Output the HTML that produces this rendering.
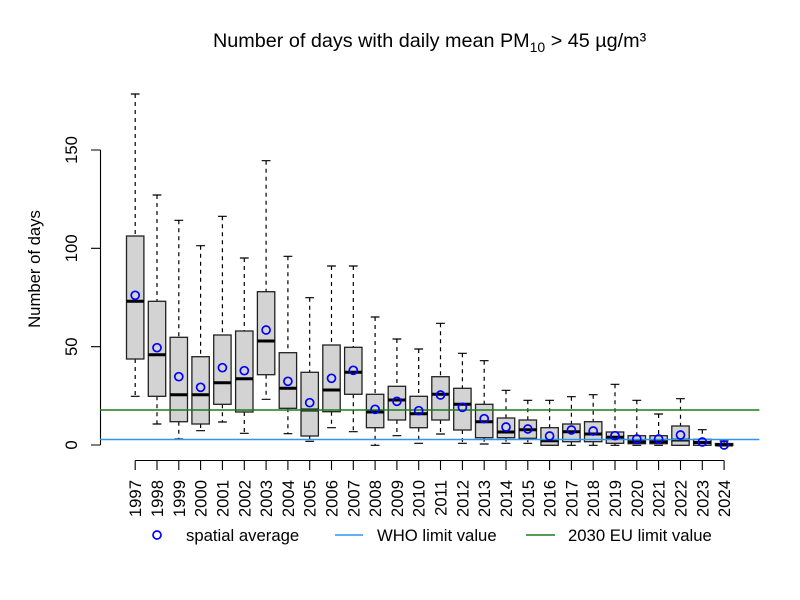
<!DOCTYPE html>
<html>
<head>
<meta charset="utf-8">
<style>
html,body{margin:0;padding:0;background:#fff;}
svg{display:block;}
text{font-family:"Liberation Sans",Arial,sans-serif;fill:#000;}
.w{stroke:#000;stroke-width:1.2;stroke-dasharray:4 4;fill:none;}
.s{stroke:#000;stroke-width:1.2;fill:none;}
rect{fill:#d3d3d3;stroke:#222;stroke-width:1.3;}
.m{stroke:#000;stroke-width:3;fill:none;}
.mean{fill:none;stroke:#0000ff;stroke-width:1.7;}
.ax{stroke:#000;stroke-width:1.1;fill:none;}
</style>
</head>
<body>
<svg width="800" height="600" viewBox="0 0 800 600" xmlns="http://www.w3.org/2000/svg">
<rect x="0" y="0" width="800" height="600" style="fill:#fff;stroke:none"/>

<!-- Title -->
<text x="213" y="47" font-size="19.8">Number of days with daily mean PM<tspan font-size="14" dy="5">10</tspan><tspan dy="-5"> &gt; 45 µg/m³</tspan></text>

<!-- Y axis -->
<path class="ax" d="M100.5 150V445M91 150H100.5M91 248.3H100.5M91 346.7H100.5M91 445H100.5"/>
<text font-size="16.7" text-anchor="middle" transform="translate(77 445) rotate(-90)">0</text>
<text font-size="16.7" text-anchor="middle" transform="translate(77 346.7) rotate(-90)">50</text>
<text font-size="16.7" text-anchor="middle" transform="translate(77 248.3) rotate(-90)">100</text>
<text font-size="16.7" text-anchor="middle" transform="translate(77 150) rotate(-90)">150</text>
<text font-size="16.7" text-anchor="middle" transform="translate(40 269) rotate(-90)">Number of days</text>

<!-- Boxes -->
<g transform="translate(135.2 0)"><path class="w" d="M0 94V236M0 359V396.3"/><path class="s" d="M-4.4 94H4.4M-4.4 396.3H4.4"/><rect x="-8.7" y="236" width="17.4" height="123"/><path class="m" d="M-8.7 301.3H8.7"/></g>
<g transform="translate(157.0 0)"><path class="w" d="M0 195V301.3M0 396.3V424"/><path class="s" d="M-4.4 195H4.4M-4.4 424H4.4"/><rect x="-8.7" y="301.3" width="17.4" height="95"/><path class="m" d="M-8.7 354.7H8.7"/></g>
<g transform="translate(178.8 0)"><path class="w" d="M0 220.3V337.3M0 421.7V439"/><path class="s" d="M-4.4 220.3H4.4M-4.4 439H4.4"/><rect x="-8.7" y="337.3" width="17.4" height="84.4"/><path class="m" d="M-8.7 394.7H8.7"/></g>
<g transform="translate(200.6 0)"><path class="w" d="M0 245.7V356.7M0 424V430.7"/><path class="s" d="M-4.4 245.7H4.4M-4.4 430.7H4.4"/><rect x="-8.7" y="356.7" width="17.4" height="67.3"/><path class="m" d="M-8.7 394.7H8.7"/></g>
<g transform="translate(222.4 0)"><path class="w" d="M0 216.3V335M0 404.3V422"/><path class="s" d="M-4.4 216.3H4.4M-4.4 422H4.4"/><rect x="-8.7" y="335" width="17.4" height="69.3"/><path class="m" d="M-8.7 382.7H8.7"/></g>
<g transform="translate(244.3 0)"><path class="w" d="M0 258V331M0 412V433.3"/><path class="s" d="M-4.4 258H4.4M-4.4 433.3H4.4"/><rect x="-8.7" y="331" width="17.4" height="81"/><path class="m" d="M-8.7 378.7H8.7"/></g>
<g transform="translate(266.1 0)"><path class="w" d="M0 160.7V291.7M0 374.7V399.3"/><path class="s" d="M-4.4 160.7H4.4M-4.4 399.3H4.4"/><rect x="-8.7" y="291.7" width="17.4" height="83"/><path class="m" d="M-8.7 341H8.7"/></g>
<g transform="translate(287.9 0)"><path class="w" d="M0 256.3V352.7M0 408.3V433.7"/><path class="s" d="M-4.4 256.3H4.4M-4.4 433.7H4.4"/><rect x="-8.7" y="352.7" width="17.4" height="55.6"/><path class="m" d="M-8.7 388.3H8.7"/></g>
<g transform="translate(309.7 0)"><path class="w" d="M0 297.7V372.3M0 436V441.3"/><path class="s" d="M-4.4 297.7H4.4M-4.4 441.3H4.4"/><rect x="-8.7" y="372.3" width="17.4" height="63.7"/><path class="m" d="M-8.7 410H8.7"/></g>
<g transform="translate(331.5 0)"><path class="w" d="M0 266V345M0 411.7V427.7"/><path class="s" d="M-4.4 266H4.4M-4.4 427.7H4.4"/><rect x="-8.7" y="345" width="17.4" height="66.7"/><path class="m" d="M-8.7 390H8.7"/></g>
<g transform="translate(353.3 0)"><path class="w" d="M0 266V347.3M0 394.3V431.7"/><path class="s" d="M-4.4 266H4.4M-4.4 431.7H4.4"/><rect x="-8.7" y="347.3" width="17.4" height="47"/><path class="m" d="M-8.7 372.3H8.7"/></g>
<g transform="translate(375.1 0)"><path class="w" d="M0 317V394.3M0 427.7V445.3"/><path class="s" d="M-4.4 317H4.4M-4.4 445.3H4.4"/><rect x="-8.7" y="394.3" width="17.4" height="33.4"/><path class="m" d="M-8.7 412H8.7"/></g>
<g transform="translate(396.9 0)"><path class="w" d="M0 339V386.3M0 420V435.7"/><path class="s" d="M-4.4 339H4.4M-4.4 435.7H4.4"/><rect x="-8.7" y="386.3" width="17.4" height="33.7"/><path class="m" d="M-8.7 400H8.7"/></g>
<g transform="translate(418.7 0)"><path class="w" d="M0 349V396.3M0 427.7V443.3"/><path class="s" d="M-4.4 349H4.4M-4.4 443.3H4.4"/><rect x="-8.7" y="396.3" width="17.4" height="31.4"/><path class="m" d="M-8.7 413.7H8.7"/></g>
<g transform="translate(440.5 0)"><path class="w" d="M0 323.3V376.7M0 420V434"/><path class="s" d="M-4.4 323.3H4.4M-4.4 434H4.4"/><rect x="-8.7" y="376.7" width="17.4" height="43.3"/><path class="m" d="M-8.7 394.3H8.7"/></g>
<g transform="translate(462.4 0)"><path class="w" d="M0 353.3V388.3M0 430V443.3"/><path class="s" d="M-4.4 353.3H4.4M-4.4 443.3H4.4"/><rect x="-8.7" y="388.3" width="17.4" height="41.7"/><path class="m" d="M-8.7 404.3H8.7"/></g>
<g transform="translate(484.2 0)"><path class="w" d="M0 360.7V404.3M0 437.7V444"/><path class="s" d="M-4.4 360.7H4.4M-4.4 444H4.4"/><rect x="-8.7" y="404.3" width="17.4" height="33.4"/><path class="m" d="M-8.7 421.7H8.7"/></g>
<g transform="translate(506.0 0)"><path class="w" d="M0 390.3V418M0 437.7V443.3"/><path class="s" d="M-4.4 390.3H4.4M-4.4 443.3H4.4"/><rect x="-8.7" y="418" width="17.4" height="19.7"/><path class="m" d="M-8.7 432H8.7"/></g>
<g transform="translate(527.8 0)"><path class="w" d="M0 400.3V420M0 438.3V443.3"/><path class="s" d="M-4.4 400.3H4.4M-4.4 443.3H4.4"/><rect x="-8.7" y="420" width="17.4" height="18.3"/><path class="m" d="M-8.7 429.7H8.7"/></g>
<g transform="translate(549.6 0)"><path class="w" d="M0 400.3V427.7"/><path class="s" d="M-4.4 400.3H4.4M-4.4 445.3H4.4"/><rect x="-8.7" y="427.7" width="17.4" height="17.6"/><path class="m" d="M-8.7 440.7H8.7"/></g>
<g transform="translate(571.4 0)"><path class="w" d="M0 396.7V424M0 441.7V445.3"/><path class="s" d="M-4.4 396.7H4.4M-4.4 445.3H4.4"/><rect x="-8.7" y="424" width="17.4" height="17.7"/><path class="m" d="M-8.7 431.7H8.7"/></g>
<g transform="translate(593.2 0)"><path class="w" d="M0 394.7V421.7M0 441.7V445.3"/><path class="s" d="M-4.4 394.7H4.4M-4.4 445.3H4.4"/><rect x="-8.7" y="421.7" width="17.4" height="20"/><path class="m" d="M-8.7 434H8.7"/></g>
<g transform="translate(615.0 0)"><path class="w" d="M0 384.3V432M0 443.3V445.3"/><path class="s" d="M-4.4 384.3H4.4M-4.4 445.3H4.4"/><rect x="-8.7" y="432" width="17.4" height="11.3"/><path class="m" d="M-8.7 437.3H8.7"/></g>
<g transform="translate(636.8 0)"><path class="w" d="M0 400.3V435.7"/><path class="s" d="M-4.4 400.3H4.4M-4.4 445.3H4.4"/><rect x="-8.7" y="435.7" width="17.4" height="8"/><path class="m" d="M-8.7 441.7H8.7"/></g>
<g transform="translate(658.6 0)"><path class="w" d="M0 414V435.7"/><path class="s" d="M-4.4 414H4.4M-4.4 445.3H4.4"/><rect x="-8.7" y="435.7" width="17.4" height="8"/><path class="m" d="M-8.7 441.7H8.7"/></g>
<g transform="translate(680.5 0)"><path class="w" d="M0 398.7V426"/><path class="s" d="M-4.4 398.7H4.4M-4.4 445.3H4.4"/><rect x="-8.7" y="426" width="17.4" height="19.3"/><path class="m" d="M-8.7 440H8.7"/></g>
<g transform="translate(702.3 0)"><path class="w" d="M0 429.7V439.3"/><path class="s" d="M-4.4 429.7H4.4M-4.4 445.3H4.4"/><rect x="-8.7" y="439.3" width="17.4" height="6"/><path class="m" d="M-8.7 442.5H8.7"/></g>
<g transform="translate(724.1 0)"><path class="w" d="M0 441V443.5"/><path class="s" d="M-4.4 441H4.4M-4.4 445.3H4.4"/><rect x="-8.7" y="443.5" width="17.4" height="1.8"/><path class="m" d="M-8.7 445H8.7"/></g>

<!-- Limit lines -->
<path d="M100 410H759.4" style="stroke:#1b7d1b;stroke-width:1.5;fill:none"/>
<path d="M100 439.5H759.4" style="stroke:#2f95f0;stroke-width:1.5;fill:none"/>

<!-- Means -->
<g class="mean">
<circle cx="135.2" cy="295.3" r="4"/>
<circle cx="157.0" cy="347.7" r="4"/>
<circle cx="178.8" cy="376.7" r="4"/>
<circle cx="200.6" cy="387.3" r="4"/>
<circle cx="222.4" cy="367.7" r="4"/>
<circle cx="244.3" cy="370.7" r="4"/>
<circle cx="266.1" cy="330" r="4"/>
<circle cx="287.9" cy="381.3" r="4"/>
<circle cx="309.7" cy="402.7" r="4"/>
<circle cx="331.5" cy="378.3" r="4"/>
<circle cx="353.3" cy="370.3" r="4"/>
<circle cx="375.1" cy="409.3" r="4"/>
<circle cx="396.9" cy="401.3" r="4"/>
<circle cx="418.7" cy="410.7" r="4"/>
<circle cx="440.5" cy="395" r="4"/>
<circle cx="462.4" cy="407.3" r="4"/>
<circle cx="484.2" cy="418.7" r="4"/>
<circle cx="506.0" cy="427" r="4"/>
<circle cx="527.8" cy="429" r="4"/>
<circle cx="549.6" cy="436" r="4"/>
<circle cx="571.4" cy="430" r="4"/>
<circle cx="593.2" cy="431" r="4"/>
<circle cx="615.0" cy="435.7" r="4"/>
<circle cx="636.8" cy="439" r="4"/>
<circle cx="658.6" cy="439" r="4"/>
<circle cx="680.5" cy="435" r="4"/>
<circle cx="702.3" cy="442" r="4"/>
<circle cx="724.1" cy="445" r="4"/>
</g>

<!-- X axis -->
<path class="ax" d="M135.2 460.5H724.1M135.2 460.5V470M157.0 460.5V470M178.8 460.5V470M200.6 460.5V470M222.4 460.5V470M244.3 460.5V470M266.1 460.5V470M287.9 460.5V470M309.7 460.5V470M331.5 460.5V470M353.3 460.5V470M375.1 460.5V470M396.9 460.5V470M418.7 460.5V470M440.5 460.5V470M462.4 460.5V470M484.2 460.5V470M506.0 460.5V470M527.8 460.5V470M549.6 460.5V470M571.4 460.5V470M593.2 460.5V470M615.0 460.5V470M636.8 460.5V470M658.6 460.5V470M680.5 460.5V470M702.3 460.5V470M724.1 460.5V470"/>
<g font-size="16.7" text-anchor="end">
<text transform="translate(141.2 480) rotate(-90)">1997</text>
<text transform="translate(163.0 480) rotate(-90)">1998</text>
<text transform="translate(184.8 480) rotate(-90)">1999</text>
<text transform="translate(206.6 480) rotate(-90)">2000</text>
<text transform="translate(228.4 480) rotate(-90)">2001</text>
<text transform="translate(250.3 480) rotate(-90)">2002</text>
<text transform="translate(272.1 480) rotate(-90)">2003</text>
<text transform="translate(293.9 480) rotate(-90)">2004</text>
<text transform="translate(315.7 480) rotate(-90)">2005</text>
<text transform="translate(337.5 480) rotate(-90)">2006</text>
<text transform="translate(359.3 480) rotate(-90)">2007</text>
<text transform="translate(381.1 480) rotate(-90)">2008</text>
<text transform="translate(402.9 480) rotate(-90)">2009</text>
<text transform="translate(424.7 480) rotate(-90)">2010</text>
<text transform="translate(446.5 480) rotate(-90)">2011</text>
<text transform="translate(468.4 480) rotate(-90)">2012</text>
<text transform="translate(490.2 480) rotate(-90)">2013</text>
<text transform="translate(512.0 480) rotate(-90)">2014</text>
<text transform="translate(533.8 480) rotate(-90)">2015</text>
<text transform="translate(555.6 480) rotate(-90)">2016</text>
<text transform="translate(577.4 480) rotate(-90)">2017</text>
<text transform="translate(599.2 480) rotate(-90)">2018</text>
<text transform="translate(621.0 480) rotate(-90)">2019</text>
<text transform="translate(642.8 480) rotate(-90)">2020</text>
<text transform="translate(664.6 480) rotate(-90)">2021</text>
<text transform="translate(686.5 480) rotate(-90)">2022</text>
<text transform="translate(708.3 480) rotate(-90)">2023</text>
<text transform="translate(730.1 480) rotate(-90)">2024</text>
</g>

<!-- Legend -->
<circle class="mean" cx="157" cy="535" r="4"/>
<text x="186" y="541" font-size="16.7">spatial average</text>
<path d="M335 535H363" style="stroke:#2f95f0;stroke-width:1.6;fill:none"/>
<text x="377" y="541" font-size="16.7">WHO limit value</text>
<path d="M526 535H555" style="stroke:#1b7d1b;stroke-width:1.6;fill:none"/>
<text x="568" y="541" font-size="16.7">2030 EU limit value</text>
</svg>
</body>
</html>
